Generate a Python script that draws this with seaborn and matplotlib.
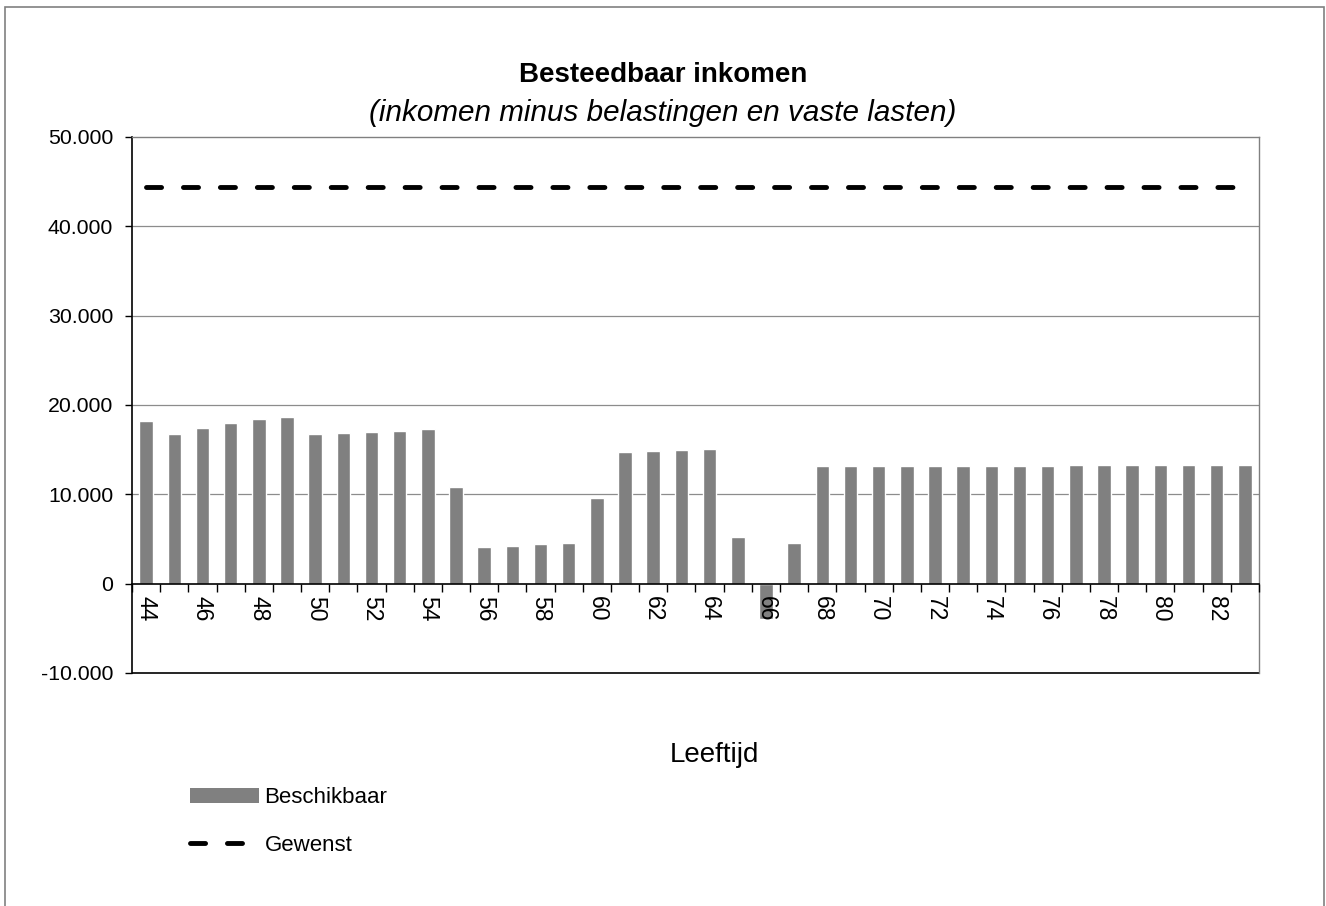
import numpy as np
import pandas as pd
import seaborn as sns
import matplotlib
matplotlib.use('Agg')
from matplotlib import pyplot as plt
from matplotlib.ticker import FuncFormatter, FixedLocator
from matplotlib.patches import Patch, Rectangle
from matplotlib.lines import Line2D

# leeftijden 44 t/m 83
leeftijd = [44, 45, 46, 47, 48, 49, 50, 51, 52, 53,
            54, 55, 56, 57, 58, 59, 60, 61, 62, 63,
            64, 65, 66, 67, 68, 69, 70, 71, 72, 73,
            74, 75, 76, 77, 78, 79, 80, 81, 82, 83]

beschikbaar = [18240, 16710, 17380, 17940, 18390, 18620, 16790, 16900, 17010, 17120,
               17270, 10800, 4150, 4260, 4410, 4520, 9640, 14770, 14880, 14990,
               15100, 5270, -3900, 4560, 13120, 13160, 13160, 13160, 13170, 13180,
               13190, 13210, 13220, 13230, 13240, 13260, 13270, 13280, 13290, 13310]

gewenst = [44400, 44400, 44400, 44400, 44400, 44400, 44400, 44400, 44400, 44400,
           44400, 44400, 44400, 44400, 44400, 44400, 44400, 44400, 44400, 44400,
           44400, 44400, 44400, 44400, 44400, 44400, 44400, 44400, 44400, 44400,
           44400, 44400, 44400, 44400, 44400, 44400, 44400, 44400, 44400, 44400]

titel = 'Besteedbaar inkomen'
subtitel = '(inkomen minus belastingen en vaste lasten)'
x_label = 'Leeftijd'

df = pd.DataFrame({'leeftijd': leeftijd, 'beschikbaar': beschikbaar, 'gewenst': gewenst})

sns.set_style('white')
plt.rcParams['font.family'] = ['Liberation Sans', 'DejaVu Sans']
plt.rcParams['text.color'] = 'black'
plt.rcParams['xtick.color'] = 'black'
plt.rcParams['ytick.color'] = 'black'

fig = plt.figure(figsize=(13.26, 9.06), dpi=100)
ax = fig.add_axes([132/1326, 1 - 673/906, (1259 - 132)/1326, (673 - 137)/906])

grijs = '#808080'
sns.barplot(data=df, x='leeftijd', y='beschikbaar', native_scale=True, color=grijs,
            saturation=1, width=0.48, ax=ax, zorder=3)
sns.lineplot(data=df, x='leeftijd', y='gewenst', ax=ax, color='black', lw=3.5,
             dashes=False, zorder=4)
ax.lines[-1].set_dashes((3.1, 4.5))
ax.lines[-1].set_dash_capstyle('round')

ax.set_xlim(leeftijd[0] - 0.5, leeftijd[-1] + 0.5)
ax.set_ylim(-10000, 50000)

# y-as
ax.set_yticks(np.arange(-10000, 50001, 10000))
ax.yaxis.set_major_formatter(FuncFormatter(lambda v, p: f'{int(v):,}'.replace(',', '.')))
ax.tick_params(axis='y', direction='out', length=5, width=1, color='black',
               labelsize=15.3, pad=8.5, left=True, labelcolor='black')
for v in range(10000, 50000, 10000):
    ax.axhline(v, color='#8c8c8c', lw=0.9, zorder=1)

# x-as op nul
ax.spines['bottom'].set_position(('data', 0))
ax.spines['bottom'].set_color('black')
ax.spines['bottom'].set_linewidth(1.2)
ax.spines['bottom'].set_zorder(5)
ax.xaxis.set_major_locator(FixedLocator(leeftijd[::2]))
ax.xaxis.set_minor_locator(FixedLocator(np.arange(leeftijd[0] - 0.5, leeftijd[-1] + 1, 1)))
ax.tick_params(axis='x', which='major', length=0, labelsize=16.5, labelrotation=270,
               pad=9, labelcolor='black')
ax.tick_params(axis='x', which='minor', direction='out', length=6, width=1,
               color='black', bottom=True)
for t in ax.get_xticklabels():
    t.set_va('top')
    t.set_ha('center')
ax.xaxis.set_zorder(10)
ax.set_xlabel('')
ax.set_ylabel('')

ax.spines['left'].set_color('black')
ax.spines['left'].set_linewidth(1.2)
for s in ['top', 'right']:
    ax.spines[s].set_color(grijs)
    ax.spines[s].set_linewidth(1)
ax.add_patch(Rectangle((0, 0), 1, 0.0001, transform=ax.transAxes, fill=False,
                       edgecolor='black', lw=1.2, clip_on=False))

# titels
fig.text(0.5, 1 - 75/906, titel, ha='center', va='center', fontsize=20, fontweight='bold')
fig.text(0.5, 1 - 113/906, subtitel, ha='center', va='center', fontsize=21.3, style='italic')
fig.text(714/1326, 1 - 755/906, x_label, ha='center', va='center', fontsize=20)

# legenda
handles = [Patch(facecolor=grijs, edgecolor='none'),
           Line2D([0], [0], color='black', lw=3.5, dashes=(3.1, 4.5), dash_capstyle='round')]
fig.legend(handles, ['Beschikbaar', 'Gewenst'], loc='upper left',
           bbox_to_anchor=(179/1326, 1 - 776/906), frameon=False, fontsize=16,
           handlelength=3.1, handletextpad=0.25, labelspacing=1.2, borderpad=0)

# kader om de grafiek
fig.add_artist(Rectangle((5/1326, -0.01), 1 - 7/1326, 1 - 7/906 + 0.01,
                         transform=fig.transFigure, fill=False, edgecolor=grijs, lw=1.2))

fig.savefig('out.png', dpi=100)
